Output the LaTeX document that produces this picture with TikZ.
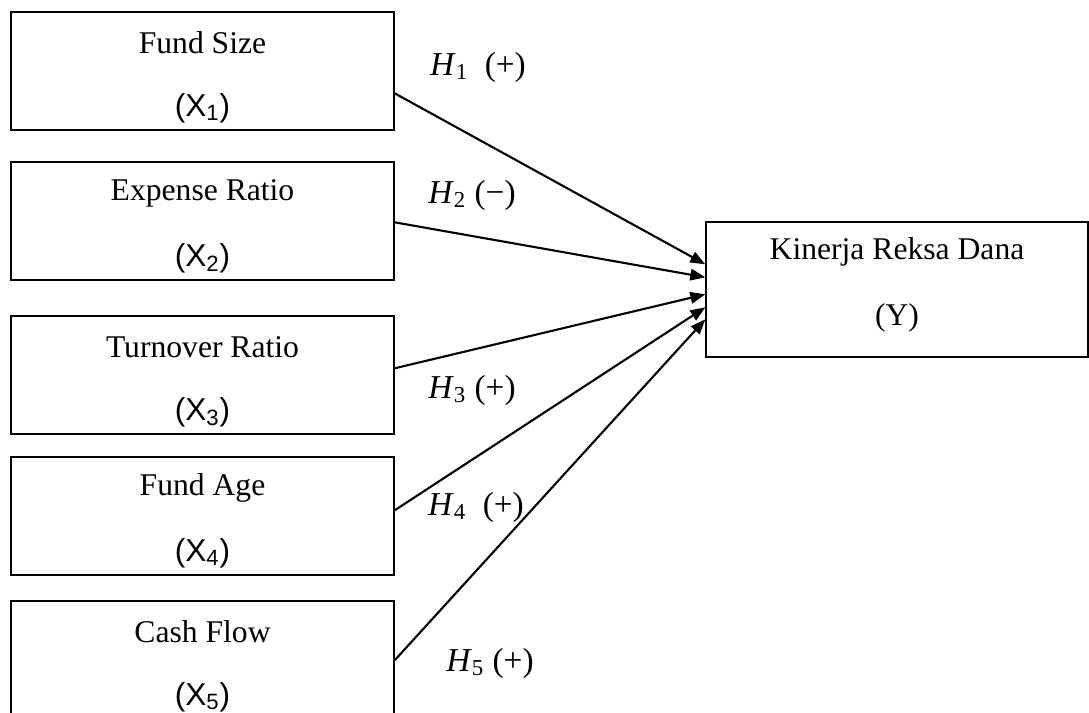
\documentclass[tikz,border=0pt]{standalone}
\usepackage{fontspec}
\setmainfont{Liberation Serif}
\newfontfamily\arialfont{Liberation Sans}
\usetikzlibrary{arrows.meta,calc}
\tikzset{%
	varbox/.style  = {draw, rectangle, line width=0.8pt, minimum width=7.66cm, minimum height=2.36cm, inner sep=0pt},
	boxtext/.style = {font=\fontsize{18}{22}\selectfont, inner sep=0pt},
	symtext/.style = {font=\fontsize{18}{22}\selectfont\arialfont, inner sep=0pt},
	hyp/.style     = {font=\fontsize{19}{22}\selectfont, inner sep=0pt},
	arrow/.style   = {line width=1.2pt, -{Triangle[length=0.3cm,width=0.23cm]}},
}
\newcommand{\hypo}[1]{\textit{H}\textsubscript{\fontsize{13}{14}\selectfont #1}}

\begin{document}
\begin{tikzpicture}[x=0.02cm,y=-0.02cm]
		\path[use as bounding box] (0,0) rectangle (1089,713);
		\clip (0,0) rectangle (1089,713);
		
		\foreach \n/\t/\title/\i in {fs/12/Fund Size/1, er/162/Expense Ratio/2, tr/316/Turnover Ratio/3, fa/457/Fund Age/4, cf/601/Cash Flow/5} {
			\node[varbox] (\n) at (202.5,{\t+59}) {};
			\node[boxtext] (\n-title) at (202.5,{\t+31}) {\title};
			\node[symtext] (\n-sym) at (202.5,{\t+96}) {(X\textsubscript{\i})};
		}
		
		\node[varbox, minimum width=7.64cm, minimum height=2.7cm] (kr) at (897,289.5) {};
		\node[boxtext] (kr-title) at (897,252) {Kinerja Reksa Dana};
		\node[boxtext] (kr-sym) at (897,318) {(Y)};
		
		\draw[arrow] ($(fs.north east)+(0,82)$) -- ($(kr.north west)+(0,43)$);
		\draw[arrow] ($(er.north east)+(0,61)$) -- ($(kr.north west)+(0,56)$);
		\draw[arrow] ($(tr.north east)+(0,53)$) -- ($(kr.north west)+(0,73)$);
		\draw[arrow] ($(fa.north east)+(0,54)$) -- ($(kr.north west)+(0,86)$);
		\draw[arrow] ($(cf.north east)+(0,60)$) -- ($(kr.north west)+(0,98)$);
		
		\node[hyp] (h1) at (478,67) {\hypo{1}\ \ (+)};
		\node[hyp] (h2) at (472,195) {\hypo{2} (−)};
		\node[hyp] (h3) at (472,390) {\hypo{3} (+)};
		\node[hyp] (h4) at (476,507) {\hypo{4}\ \ (+)};
		\node[hyp] (h5) at (490,663) {\hypo{5} (+)};
	\end{tikzpicture}
\end{document}
